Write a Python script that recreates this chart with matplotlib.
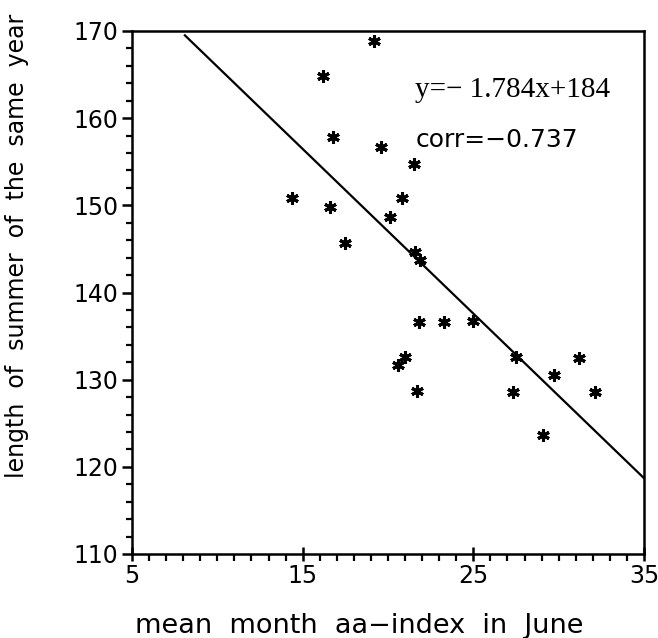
import matplotlib.pyplot as plt
from matplotlib.ticker import MultipleLocator

# star points
aa_june = [19.2, 16.2, 16.8, 19.6, 21.5, 14.4, 16.6, 20.8, 20.1, 17.5, 21.6, 21.9,
           21.8, 23.3, 25.0, 20.6, 21.0, 21.7, 27.5, 27.3, 29.7, 29.1, 31.2, 32.1]
summer_len = [168.8, 164.8, 157.8, 156.7, 154.7, 150.8, 149.8, 150.8, 148.7, 145.7, 144.7, 143.7,
              136.6, 136.6, 136.7, 131.7, 132.6, 128.7, 132.6, 128.6, 130.5, 123.6, 132.5, 128.6]

# regression line as drawn
line_x = [8.1, 35.0]
line_y = [169.5, 118.7]

eq_text = "y=\u2212 1.784x+184"
corr_text = "corr=\u22120.737"

plt.rcParams['font.family'] = 'DejaVu Sans'

fig = plt.figure(figsize=(6.58, 6.38), dpi=100)
ax = fig.add_axes([132 / 658, 1 - 554 / 638, (644 - 132) / 658, (554 - 31) / 638])

ax.plot(line_x, line_y, color='black', lw=1.6)
ax.plot(aa_june, summer_len, linestyle='none', marker=(6, 2, 0), ms=9, mew=2.2, color='black')

ax.text(21.6, 163.2, eq_text, family='Liberation Serif', fontsize=21, va='center', ha='left')
ax.text(21.6, 157.5, corr_text, fontsize=18, va='center', ha='left')

ax.set_xlim(5, 35)
ax.set_ylim(110, 170)
ax.set_xticks([5, 15, 25, 35])
ax.set_yticks([110, 120, 130, 140, 150, 160, 170])
ax.xaxis.set_minor_locator(MultipleLocator(1))
ax.yaxis.set_minor_locator(MultipleLocator(2))

ax.tick_params(axis='x', which='major', direction='inout', length=10, width=1.8, labelsize=17, pad=2)
ax.tick_params(axis='x', which='minor', direction='out', length=5, width=1.6)
ax.tick_params(axis='y', which='major', direction='out', length=7, width=1.8, labelsize=17, pad=3)
ax.tick_params(axis='y', which='minor', direction='out', length=4, width=1.6)

for s in ax.spines.values():
    s.set_linewidth(1.8)

ax.set_xlabel("mean  month  aa\u2212index  in  June", fontsize=19.5, labelpad=18, x=0.443)
ax.set_ylabel("length  of  summer  of  the  same  year", fontsize=17, labelpad=32, y=0.59)

fig.savefig("out.png", dpi=100)
